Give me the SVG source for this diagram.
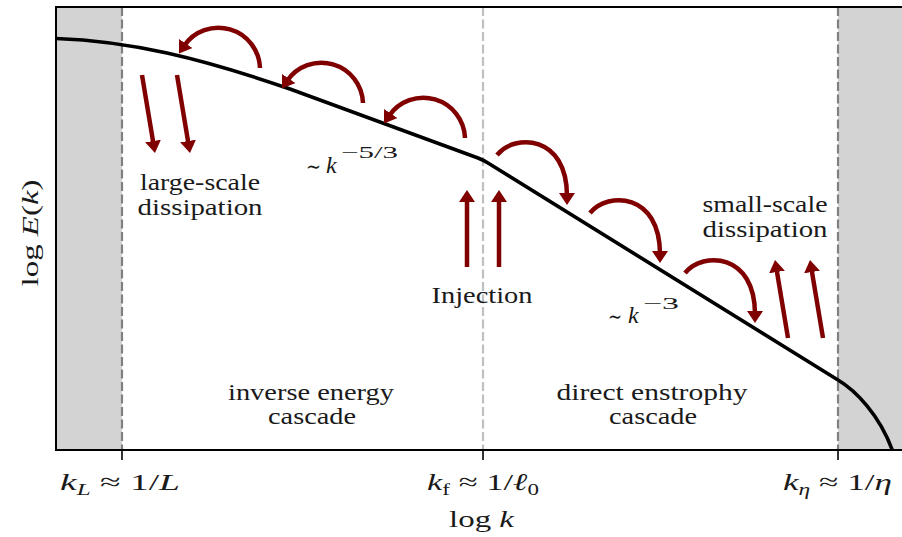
<svg xmlns="http://www.w3.org/2000/svg" width="902" height="537" viewBox="0 0 902 537">
<style>
.txt{font-family:"Liberation Serif","DejaVu Serif",serif;font-size:24px;fill:#1a1a1a;}
.it{font-style:italic;}
.sim{font-family:"DejaVu Serif","Liberation Serif",serif;font-size:22px;}
.arr{fill:none;stroke:#800000;stroke-width:4.5;marker-end:url(#head);}
.dash{stroke-width:2.2;stroke-dasharray:9 3.5;fill:none;}
</style>
<defs>
<marker id="head" viewBox="0 -8 12 16" markerWidth="12" markerHeight="16" refX="3" refY="0" orient="auto" markerUnits="userSpaceOnUse">
<path d="M0,-8 L12,0 L0,8 z" fill="#800000"/>
</marker>
<clipPath id="plot"><rect x="56" y="7" width="846" height="443"/></clipPath>
</defs>
<rect width="902" height="537" fill="#ffffff"/>
<g id="shading">
<rect x="56" y="7" width="66" height="443" fill="#d3d3d3"/>
<rect x="838" y="7" width="64" height="443" fill="#d3d3d3"/>
</g>
<g id="guides">
<line class="dash" x1="122" y1="7" x2="122" y2="450" stroke="#808080"/>
<line class="dash" x1="483" y1="7" x2="483" y2="450" stroke="#c0c0c0"/>
<line class="dash" x1="838" y1="7" x2="838" y2="450" stroke="#808080"/>
</g>
<g id="spectrum" clip-path="url(#plot)">
<path d="M56,38.5 C130,41 200,58 290,89 L478,158 Q483,160 488,163 L838,380 C855,390 880,415 893,452" fill="none" stroke="#000" stroke-width="3.6" stroke-linejoin="round"/>
</g>
<g id="connectors">
<path class="arr" d="M260,68 A41.6,41.6 0 0 0 184,46"/>
<path class="arr" d="M363,103 A41.6,41.6 0 0 0 287,81"/>
<path class="arr" d="M465,138 A41.6,41.6 0 0 0 389,116"/>
<path class="arr" d="M142,75 L153.5,144"/>
<path class="arr" d="M177,75 L188.5,144"/>
<path class="arr" d="M467,267 L467,199"/>
<path class="arr" d="M499,267 L499,199"/>
<path class="arr" d="M497,155 C515,133 567,135 567,196"/>
<path class="arr" d="M590,213 C608,191 660,193 660,254"/>
<path class="arr" d="M685,273 C703,251 755,253 755,314"/>
<path class="arr" d="M788,338 L776.5,269"/>
<path class="arr" d="M823,338 L811.5,269"/>
</g>
<g id="axes" stroke="#000" stroke-width="2" fill="none">
<path d="M902,7 L56,7 L56,450 L902,450"/>
<path d="M122,450 V460 M483,450 V460 M838,450 V460" stroke-width="1.6"/>
</g>
<g id="label-large-scale" class="txt" text-anchor="middle">
<text x="200" y="190" textLength="120" lengthAdjust="spacingAndGlyphs">large-scale</text>
<text x="200" y="215" textLength="125" lengthAdjust="spacingAndGlyphs">dissipation</text>
</g>
<g id="label-injection" class="txt" text-anchor="middle">
<text x="482" y="303" textLength="101" lengthAdjust="spacingAndGlyphs">Injection</text>
</g>
<g id="label-small-scale" class="txt" text-anchor="middle">
<text x="765" y="212" textLength="125" lengthAdjust="spacingAndGlyphs">small-scale</text>
<text x="765" y="237" textLength="125" lengthAdjust="spacingAndGlyphs">dissipation</text>
</g>
<g id="label-inverse" class="txt" text-anchor="middle">
<text x="311" y="400" textLength="166" lengthAdjust="spacingAndGlyphs">inverse energy</text>
<text x="312" y="424" textLength="88" lengthAdjust="spacingAndGlyphs">cascade</text>
</g>
<g id="label-direct" class="txt" text-anchor="middle">
<text x="652" y="400" textLength="191" lengthAdjust="spacingAndGlyphs">direct enstrophy</text>
<text x="653" y="424" textLength="88" lengthAdjust="spacingAndGlyphs">cascade</text>
</g>
<g id="label-slope53" class="txt">
<text x="306" y="174" class="sim" textLength="15" lengthAdjust="spacingAndGlyphs">∼</text>
<text x="326" y="173" class="it">k</text>
<text x="341" y="158" font-size="17" textLength="57" lengthAdjust="spacingAndGlyphs">−5/3</text>
</g>
<g id="label-slope3" class="txt">
<text x="608" y="324" class="sim" textLength="14" lengthAdjust="spacingAndGlyphs">∼</text>
<text x="628" y="323" class="it">k</text>
<text x="643" y="309" font-size="17" textLength="36" lengthAdjust="spacingAndGlyphs">−3</text>
</g>
<g id="tick-labels" class="txt">
<text x="60" y="490" textLength="120" lengthAdjust="spacingAndGlyphs"><tspan class="it">k</tspan><tspan class="it" font-size="16" dy="5">L</tspan><tspan dy="-5"> ≈ 1/</tspan><tspan class="it">L</tspan></text>
<text x="427" y="490" textLength="112" lengthAdjust="spacingAndGlyphs"><tspan class="it">k</tspan><tspan font-size="16" dy="5">f</tspan><tspan dy="-5"> ≈ 1/</tspan><tspan class="it">ℓ</tspan><tspan font-size="16" dy="5">0</tspan></text>
<text x="783" y="490" textLength="109" lengthAdjust="spacingAndGlyphs"><tspan class="it">k</tspan><tspan class="it" font-size="16" dy="5">η</tspan><tspan dy="-5"> ≈ 1/</tspan><tspan class="it">η</tspan></text>
</g>
<g id="axis-labels" class="txt">
<text x="449" y="527" textLength="65" lengthAdjust="spacingAndGlyphs">log <tspan class="it">k</tspan></text>
<text x="0" y="0" text-anchor="middle" textLength="107" lengthAdjust="spacingAndGlyphs" transform="translate(38,233) rotate(-90)">log <tspan class="it">E</tspan>(<tspan class="it">k</tspan>)</text>
</g>
</svg>
